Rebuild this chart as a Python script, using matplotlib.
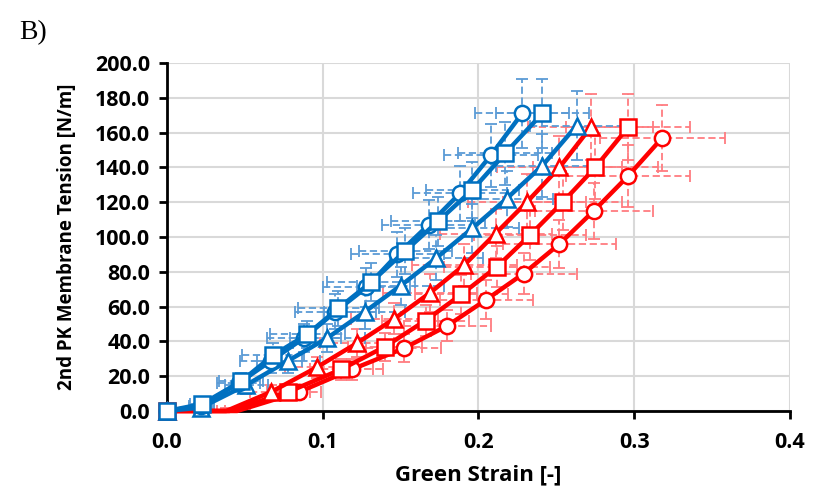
import numpy as np
import matplotlib.pyplot as plt

# data
strain_b_circle = [0, 0.022, 0.046, 0.067, 0.088, 0.108, 0.128, 0.148, 0.168, 0.188, 0.208, 0.228]
tension_b_circle = [0, 3, 16, 29, 42, 57, 71, 90, 107, 125, 147, 171]
strain_b_square = [0, 0.0225, 0.0475, 0.068, 0.090, 0.110, 0.131, 0.153, 0.174, 0.196, 0.217, 0.241]
tension_b_square = [0, 4, 17, 32, 44, 59, 74, 92, 109, 127, 148, 171]
strain_b_tri = [0, 0.022, 0.051, 0.078, 0.103, 0.127, 0.150, 0.173, 0.196, 0.218, 0.241, 0.263]
tension_b_tri = [0, 2, 15, 29, 42, 57, 72, 88, 105, 122, 141, 164]

strain_r_tri = [0, 0.038, 0.067, 0.096, 0.122, 0.146, 0.169, 0.191, 0.211, 0.231, 0.252, 0.272]
tension_r_tri = [0, 0, 11, 25, 39, 53, 68, 84, 102, 120, 140, 163]
strain_r_square = [0, 0.040, 0.078, 0.112, 0.140, 0.166, 0.189, 0.212, 0.233, 0.254, 0.275, 0.296]
tension_r_square = [0, 0, 11, 24, 37, 52, 67, 83, 101, 120, 140, 163]
strain_r_circle = [0, 0.045, 0.085, 0.119, 0.152, 0.180, 0.205, 0.229, 0.252, 0.274, 0.296, 0.318]
tension_r_circle = [0, 0, 11, 24, 36, 49, 64, 79, 96, 115, 135, 157]

# error estimates (x: strain, y: tension)
xerr_blue = [0, 0.008, 0.014, 0.020, 0.024, 0.026, 0.028, 0.030, 0.030, 0.030, 0.030, 0.030]
yerr_blue = [0, 3, 5, 7, 8, 10, 11, 13, 14, 16, 18, 20]
xerr_red = [0, 0.008, 0.014, 0.020, 0.024, 0.028, 0.030, 0.034, 0.036, 0.038, 0.040, 0.040]
yerr_red = [0, 2, 4, 6, 8, 9, 11, 12, 14, 16, 18, 19]

BLUE = "#0070C0"
RED = "#FF0000"
BLUE_ERR = "#5B9BD5"
RED_ERR = "#FF7C80"

series = [
    (strain_r_circle, tension_r_circle, "o", RED, RED_ERR, xerr_red, yerr_red),
    (strain_r_square, tension_r_square, "s", RED, RED_ERR, xerr_red, yerr_red),
    (strain_r_tri, tension_r_tri, "^", RED, RED_ERR, xerr_red, yerr_red),
    (strain_b_tri, tension_b_tri, "^", BLUE, BLUE_ERR, xerr_blue, yerr_blue),
    (strain_b_circle, tension_b_circle, "o", BLUE, BLUE_ERR, xerr_blue, yerr_blue),
    (strain_b_square, tension_b_square, "s", BLUE, BLUE_ERR, xerr_blue, yerr_blue),
]

plt.rcParams["font.family"] = ["Open Sans", "DejaVu Sans"]

fig = plt.figure(figsize=(8.15, 4.98), dpi=100)
ax = fig.add_axes([0.2049, 0.1747, 0.7644, 0.6988])

# error bars first, behind everything
for x, y, m, c, ec, xe, ye in series:
    eb = ax.errorbar(x, y, xerr=xe, yerr=ye, fmt="none", ecolor=ec,
                     elinewidth=1.3, capsize=4, capthick=1.3, zorder=2)
    for col in eb[2]:
        col.set_linestyle((0, (4, 2)))

for x, y, m, c, ec, xe, ye in series:
    ms = 12 if m == "s" else 11
    # flat zero-strain points of red curves have no visible marker
    mk = [i for i in range(len(x)) if not (i > 0 and y[i] == 0)]
    ax.plot(x, y, color=c, lw=3.2, marker=m, ms=ms, mfc="white", mec=c,
            mew=1.8, markevery=mk, zorder=4, clip_on=False)

ax.set_xlim(0, 0.4)
ax.set_ylim(0, 200)
ax.set_xticks(np.arange(0, 0.41, 0.1))
ax.set_yticks(np.arange(0, 201, 20))
ax.set_xticklabels([f"{v:.1f}" for v in np.arange(0, 0.41, 0.1)])
ax.set_yticklabels([f"{v:.1f}" for v in np.arange(0, 201, 20)])

ax.grid(True, color="#D9D9D9", lw=1.5)
ax.set_axisbelow(True)
for s in ["top", "right"]:
    ax.spines[s].set_visible(False)
for s in ["left", "bottom"]:
    ax.spines[s].set_linewidth(2)
    ax.spines[s].set_color("black")
ax.tick_params(direction="out", length=6, width=2, labelsize=15.5)
ax.tick_params(axis="y", pad=6)
ax.tick_params(axis="x", pad=9)
for lab in ax.get_xticklabels() + ax.get_yticklabels():
    lab.set_fontweight("bold")

ax.set_xlabel("Green Strain [-]", fontsize=16, fontweight="bold", labelpad=8)
ax.set_ylabel("2nd PK Membrane Tension [N/m]", fontsize=13.5, fontweight="bold", labelpad=13)

fig.text(0.024, 0.922, "B)", fontsize=20, family="Liberation Serif")

fig.savefig("out.png", dpi=100)
